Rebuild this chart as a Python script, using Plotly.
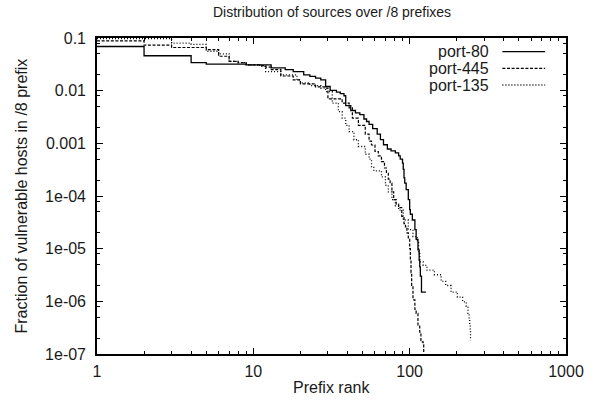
import plotly.graph_objects as go

# ---------------- data ----------------
port80_rank = [1, 2, 4, 5, 9, 13, 16, 18, 21, 23, 25, 27, 29, 31, 34, 36, 38, 39, 42, 45,
               48, 51, 53, 55, 58, 62, 65, 68, 72, 76, 81, 85, 87, 90, 91, 92, 93, 95,
               98, 100, 101, 104, 108, 110, 113, 115, 116, 117, 119, 127]
port80_val = [0.069, 0.046, 0.034, 0.032, 0.031, 0.027, 0.025, 0.023, 0.020, 0.0186,
              0.0173, 0.0160, 0.0120, 0.0101, 0.0094, 0.0088, 0.0080, 0.0052, 0.0042, 0.0038,
              0.0035, 0.0029, 0.0026, 0.0023, 0.0019, 0.00150, 0.00118, 0.00094, 0.00078, 0.00072,
              0.00066, 0.00058, 0.00050, 0.00042, 0.00032, 0.00022, 0.000175, 0.000132,
              8.5e-5, 5.5e-5, 4.5e-5, 3.5e-5, 2.3e-5, 1.5e-5, 9.5e-6, 6e-6, 4.5e-6, 3.0e-6,
              1.5e-6, 1.5e-6]

port445_rank = [1, 2, 3, 5, 6, 7, 8, 9, 11, 12, 13, 15, 18, 20, 25, 29, 30, 37, 41, 43,
                47, 52, 55, 57, 60, 63, 66, 69, 71, 73, 75, 77, 79, 82, 85, 89, 92, 94,
                96, 98, 100, 101, 102, 103, 105, 108, 110, 113, 116, 118, 122, 123]
port445_val = [0.088, 0.073, 0.066, 0.060, 0.045, 0.036, 0.034, 0.031, 0.030, 0.028,
               0.025, 0.019, 0.016, 0.0135, 0.0118, 0.0112, 0.0070, 0.0058, 0.0047, 0.0030,
               0.0022, 0.00150, 0.00110, 0.00093, 0.00070, 0.00058, 0.00045, 0.00034, 0.00027,
               0.00021, 0.000175, 0.00012, 8.5e-5, 7e-5, 6.0e-5, 4.1e-5, 3.0e-5, 2.6e-5,
               2.0e-5, 1.5e-5, 1.0e-5, 6e-6, 3.5e-6, 2.0e-6, 1.07e-6, 7e-7, 5.9e-7, 3.4e-7,
               2.6e-7, 1.7e-7, 1.5e-7, 1.05e-7]

port135_rank = [1, 3, 4, 5, 6, 7, 8, 9, 11, 12, 15, 19, 20, 23, 27, 29, 32, 35, 37, 39,
                41, 44, 47, 52, 55, 57, 59, 66, 70, 73, 77, 81, 85, 91, 98, 105, 112, 114,
                116, 122, 129, 144, 159, 170, 184, 202, 218, 230, 236, 240, 242, 244, 245]
port135_val = [0.097, 0.080, 0.076, 0.056, 0.050, 0.036, 0.034, 0.031, 0.029, 0.023,
               0.020, 0.016, 0.014, 0.0125, 0.0112, 0.0096, 0.0058, 0.0040, 0.0030, 0.0022,
               0.00167, 0.00117, 0.00087, 0.00062, 0.00050, 0.00035, 0.00030, 0.00023, 0.00016,
               0.00012, 8.5e-5, 6.5e-5, 5.4e-5, 3.5e-5, 2.3e-5, 1.7e-5, 1.3e-5, 8e-6,
               5.6e-6, 4.8e-6, 3.9e-6, 3.2e-6, 2.4e-6, 2.0e-6, 1.5e-6, 1.2e-6, 9.8e-7, 8e-7,
               5.9e-7, 4.5e-7, 3.7e-7, 2.8e-7, 1.8e-7]

series_names = ["port-80", "port-445", "port-135"]

x_tick_vals = [1, 10, 100, 1000]
x_tick_text = ["1", "10", "100", "1000"]
y_tick_vals = [0.1, 0.01, 0.001, 1e-4, 1e-5, 1e-6, 1e-7]
y_tick_text = ["0.1", "0.01", "0.001", "1e-04", "1e-05", "1e-06", "1e-07"]

title_text = "Distribution of sources over /8 prefixes"
x_title = "Prefix rank"
y_title = "Fraction of vulnerable hosts in /8 prefix"

# ---------------- styling ----------------
FONT = "Liberation Sans, Arial, Helvetica, sans-serif"
TXT = "#1a1a1a"
dashes = ["solid", "3px,1.6px", "1px,2px"]
widths = [1.3, 1.2, 1.3]

x_minor = [m * 10 ** e for e in range(0, 3) for m in range(2, 10)]
y_minor = [m * 10.0 ** e for e in range(-8, -1) for m in (2, 5, 8)]
y_minor = [v for v in y_minor if 1e-7 < v < 0.1]

fig = go.Figure()
data = [(port80_rank, port80_val), (port445_rank, port445_val), (port135_rank, port135_val)]
for (xr, yv), name, d, w in zip(data, series_names, dashes, widths):
    fig.add_trace(go.Scatter(x=xr, y=yv, mode="lines", name=name,
                             line=dict(shape="hv", color="black", width=w, dash=d),
                             showlegend=False))

L, R, T, B = 97, 27, 38, 52
W, H = 596, 406

axis_common = dict(showline=True, linecolor="black", linewidth=1.6, mirror="ticks",
                   ticks="inside", ticklen=6, tickwidth=1.2, tickcolor="black",
                   showgrid=False, zeroline=False,
                   tickfont=dict(family=FONT, size=16, color=TXT))

fig.update_layout(
    width=W, height=H,
    margin=dict(l=L, r=R, t=T, b=B),
    paper_bgcolor="white", plot_bgcolor="white",
    font=dict(family=FONT, color=TXT),
    showlegend=False,
    xaxis=dict(type="log", range=[0, 3], tickvals=x_tick_vals, ticktext=x_tick_text,
               minor=dict(tickvals=x_minor, ticks="inside", ticklen=3, tickcolor="black",
                          tickwidth=1, showgrid=False),
               ticklabelstandoff=2, **axis_common),
    yaxis=dict(type="log", range=[-7, -1], tickvals=y_tick_vals, ticktext=y_tick_text,
               minor=dict(tickvals=y_minor, ticks="inside", ticklen=3, tickcolor="black",
                          tickwidth=1, showgrid=False),
               ticklabelstandoff=6, **axis_common),
)

pw, ph = W - L - R, H - T - B
def px_x(p):
    return (p - L) / pw
def px_y(p):
    return (H - B - p) / ph

ann = [
    dict(text=title_text, x=px_x(333), y=px_y(12), xref="paper", yref="paper",
         xanchor="center", yanchor="middle", showarrow=False,
         font=dict(family=FONT, size=14, color=TXT)),
    dict(text=x_title, x=px_x(333), y=px_y(387), xref="paper", yref="paper",
         xanchor="center", yanchor="middle", showarrow=False,
         font=dict(family=FONT, size=16, color=TXT)),
    dict(text=y_title, x=px_x(21), y=px_y(196), xref="paper", yref="paper",
         xanchor="center", yanchor="middle", showarrow=False, textangle=-90,
         font=dict(family=FONT, size=16, color=TXT)),
]

shapes = []
leg_y = [51.7, 68.3, 85.0]
for name, d, w, yy in zip(series_names, dashes, widths, leg_y):
    ann.append(dict(text=name, x=px_x(494), y=px_y(yy), xref="paper", yref="paper",
                    xanchor="right", yanchor="middle", showarrow=False,
                    font=dict(family=FONT, size=16, color=TXT)))
    shapes.append(dict(type="line", xref="paper", yref="paper",
                       x0=px_x(505), x1=px_x(548), y0=px_y(yy), y1=px_y(yy),
                       line=dict(color="black", width=w, dash=d)))

fig.update_layout(annotations=ann, shapes=shapes)
fig.write_html("out.html")
